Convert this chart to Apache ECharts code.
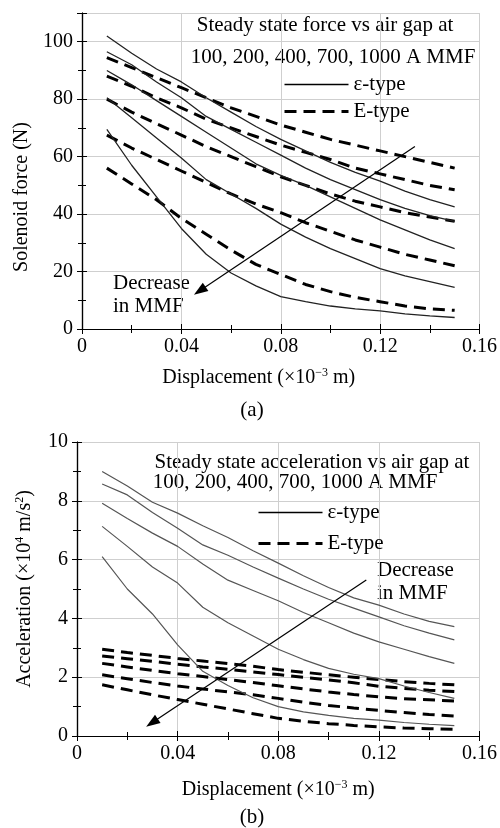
<!DOCTYPE html>
<html>
<head>
<meta charset="utf-8">
<script src="https://cdn.jsdelivr.net/npm/echarts@6/dist/echarts.min.js"></script>
<style>
html, body { margin: 0; padding: 0; background: #fff; }
#chart { width: 500px; height: 828px; }
</style>
</head>
<body>
<div id="chart"></div>
<script>
// displacement (x10^-3 m)
var disp = [0.01, 0.02, 0.03, 0.04, 0.05, 0.06, 0.07, 0.08, 0.09, 0.10, 0.11, 0.12, 0.13, 0.14, 0.15];

// (a) solenoid force (N), epsilon-type, 1000 -> 100 A
var fEps1000 = [102, 96, 90.5, 86, 80.5, 75.5, 70.5, 66, 62, 58, 54.5, 51.5, 48, 45, 42.5];
var fEps700 = [96.5, 92, 86, 80.5, 74, 69.5, 65, 60.5, 56, 52, 48.5, 45, 42, 39.5, 37.5];
var fEps400 = [90, 85, 79.5, 74, 68.5, 63, 57.5, 53.5, 50, 46, 42, 38, 34.5, 31, 28];
var fEps200 = [80.5, 73.5, 66.5, 59.5, 52, 47, 42, 36.5, 32, 28, 24.5, 21, 18.5, 16.5, 14.5];
var fEps100 = [69.5, 57, 46, 35, 26, 19.5, 15, 11.3, 9.5, 8, 7, 6.3, 5.3, 4.6, 4];
// (a) E-type
var fE1000 = [94.5, 91, 87.5, 84, 80.5, 77, 74, 71, 68.5, 66, 64, 62, 60, 58, 56];
var fE700 = [88, 84.5, 80.5, 77, 73, 70, 67, 64, 61.5, 59, 56, 54, 52, 50, 48.5];
var fE400 = [80, 75.5, 71.5, 67.5, 63.5, 60, 56.5, 53, 50, 47, 44.5, 42.5, 40.5, 39, 37.5];
var fE200 = [67.5, 63, 59, 55, 51, 47, 43.5, 40.5, 37, 34, 31, 28.5, 26, 24, 22];
var fE100 = [56, 50.5, 45, 38.5, 33, 27.5, 22.5, 19, 15.5, 13, 11, 9.5, 8, 7, 6.5];

// (b) acceleration (x10^4 m/s^2), epsilon-type
var aEps1000 = [9.0, 8.5, 7.95, 7.58, 7.15, 6.75, 6.3, 5.88, 5.45, 5.05, 4.7, 4.45, 4.15, 3.9, 3.72];
var aEps700 = [8.57, 8.2, 7.6, 7.07, 6.5, 6.15, 5.75, 5.37, 5.0, 4.65, 4.35, 4.05, 3.75, 3.5, 3.27];
var aEps400 = [7.92, 7.4, 6.9, 6.45, 5.85, 5.3, 4.95, 4.6, 4.2, 3.85, 3.5, 3.2, 2.95, 2.7, 2.47];
var aEps200 = [7.13, 6.45, 5.75, 5.2, 4.38, 3.85, 3.4, 2.95, 2.6, 2.3, 2.1, 1.95, 1.7, 1.48, 1.28];
var aEps100 = [6.1, 5.0, 4.15, 3.1, 2.2, 1.72, 1.3, 1.0, 0.82, 0.7, 0.6, 0.54, 0.46, 0.4, 0.35];
// (b) E-type
var aE1000 = [2.95, 2.84, 2.74, 2.64, 2.55, 2.46, 2.37, 2.26, 2.17, 2.08, 2.0, 1.92, 1.85, 1.79, 1.74];
var aE700 = [2.72, 2.63, 2.54, 2.44, 2.35, 2.27, 2.18, 2.09, 2.0, 1.91, 1.81, 1.69, 1.62, 1.56, 1.51];
var aE400 = [2.47, 2.35, 2.23, 2.12, 2.02, 1.92, 1.82, 1.71, 1.6, 1.5, 1.41, 1.33, 1.27, 1.23, 1.19];
var aE200 = [2.08, 1.95, 1.82, 1.7, 1.6, 1.5, 1.4, 1.28, 1.15, 1.04, 0.95, 0.87, 0.8, 0.73, 0.68];
var aE100 = [1.74, 1.57, 1.4, 1.24, 1.08, 0.92, 0.76, 0.6, 0.5, 0.42, 0.36, 0.31, 0.27, 0.25, 0.23];

// "Decrease in MMF" arrows, start -> head, in data units
var arrowA = [[0.134, 63.5], [0.0474, 13.3]];
var arrowB = [[0.115, 5.31], [0.0298, 0.45]];

var FONT = 'Liberation Serif';

function pts(ys) {
    return disp.map(function (x, i) { return [x, ys[i]]; });
}

function solid(name, ys, g, color, w) {
    return {
        name: name, type: 'line', xAxisIndex: g * 2, yAxisIndex: g * 2,
        data: pts(ys), symbol: 'none', silent: true, z: 3,
        itemStyle: { color: color },
        lineStyle: { color: color, width: w }
    };
}
function dashed(name, ys, g) {
    return {
        name: name, type: 'line', xAxisIndex: g * 2, yAxisIndex: g * 2,
        data: pts(ys), symbol: 'none', silent: true, z: 2,
        itemStyle: { color: '#000' },
        lineStyle: { color: '#000', width: 3, type: [12, 7] }
    };
}

function xAx(g, top) {
    return {
        type: 'value', gridIndex: g, position: top ? 'top' : 'bottom',
        min: 0, max: 0.16, interval: 0.04,
        axisLine: { show: true, lineStyle: { color: '#000', width: 1.2 } },
        axisTick: { show: true, inside: true, length: 5, lineStyle: { color: '#000' } },
        minorTick: { show: true, splitNumber: 2, length: 4, lineStyle: { color: '#000' } },
        splitLine: { show: !top, lineStyle: { color: '#cfcfcf', width: 1 } },
        axisLabel: { show: !top, color: '#000', fontFamily: FONT, fontSize: 20, margin: 8 }
    };
}
function yAx(g, right, max, step, showMax) {
    return {
        type: 'value', gridIndex: g, position: right ? 'right' : 'left',
        min: 0, max: max, interval: step,
        axisLine: { show: true, lineStyle: { color: '#000', width: 1.2 } },
        axisTick: { show: true, inside: true, length: 5, lineStyle: { color: '#000' } },
        minorTick: { show: true, splitNumber: 2, length: 4, lineStyle: { color: '#000' } },
        splitLine: { show: !right, lineStyle: { color: '#cfcfcf', width: 1 } },
        axisLabel: { show: !right, showMaxLabel: showMax, color: '#000', fontFamily: FONT, fontSize: 20, margin: 9 }
    };
}

var supRich = {
    sup: { fontFamily: FONT, fontSize: 12, color: '#000', padding: [0, 0, 9, 0] }
};

var xa0 = xAx(0, false), xa0t = xAx(0, true), xa1 = xAx(1, false), xa1t = xAx(1, true);
xa0.name = 'Displacement (×10{sup|−3} m)';
xa0.nameLocation = 'middle';
xa0.nameGap = 38;
xa0.nameTextStyle = { color: '#000', fontFamily: FONT, fontSize: 20, padding: [0, 44, 0, 0], rich: supRich };
xa1.name = 'Displacement (×10{sup|−3} m)';
xa1.nameLocation = 'middle';
xa1.nameGap = 43;
xa1.nameTextStyle = { color: '#000', fontFamily: FONT, fontSize: 20, rich: supRich };

var ya0 = yAx(0, false, 110, 20, false), ya0r = yAx(0, true, 110, 20, false);
var ya1 = yAx(1, false, 10, 2, true), ya1r = yAx(1, true, 10, 2, true);
ya0.name = 'Solenoid force (N)';
ya0.nameLocation = 'middle';
ya0.nameGap = 49;
ya0.nameTextStyle = { color: '#000', fontFamily: FONT, fontSize: 20, padding: [0, 52, 0, 0] };
ya1.name = 'Acceleration (×10{sup|4} m/s{sup|2})';
ya1.nameLocation = 'middle';
ya1.nameGap = 42;
ya1.nameTextStyle = { color: '#000', fontFamily: FONT, fontSize: 20, rich: supRich };

function arrowLine(a) {
    return {
        silent: true, symbol: ['none', 'triangle'], symbolSize: [10, 14],
        label: { show: false },
        lineStyle: { color: '#000', width: 1.2, type: 'solid' },
        data: [[{ coord: a[0] }, { coord: a[1] }]]
    };
}

function legendFor(left, top, gap) {
    return {
        orient: 'vertical', left: left, top: top, itemWidth: 64, itemHeight: 14, itemGap: gap,
        selectedMode: false,
        textStyle: { color: '#000', fontFamily: FONT, fontSize: 21 },
        data: [
            { name: 'ε-type', itemStyle: { opacity: 0 }, lineStyle: { color: '#000', width: 1.3, type: 'solid' } },
            { name: 'E-type', itemStyle: { opacity: 0 }, lineStyle: { color: '#000', width: 3, type: [12, 7] } }
        ]
    };
}

function txt(x, y, s, align) {
    return {
        type: 'text', x: x, y: y, silent: true,
        style: { text: s, fill: '#000', font: '21px "Liberation Serif"', align: align || 'center', verticalAlign: 'middle' }
    };
}

var s0 = solid('ε-type', fEps1000, 0, '#222', 1.3);
s0.markLine = arrowLine(arrowA);
var s1 = solid('ε-type', aEps1000, 1, '#555', 1.2);
s1.markLine = arrowLine(arrowB);

var chart = echarts.init(document.getElementById('chart'));
chart.setOption({
    animation: false,
    grid: [
        { left: 82, right: 20, top: 13, height: 316 },
        { left: 77, right: 20, top: 442, height: 294 }
    ],
    xAxis: [xa0, xa0t, xa1, xa1t],
    yAxis: [ya0, ya0r, ya1, ya1r],
    legend: [legendFor(278, 69, 6), legendFor(252, 497, 10)],
    graphic: [
        txt(325, 25, 'Steady state force vs air gap at'),
        txt(333, 57, '100, 200, 400, 700, 1000 A MMF'),
        txt(113, 283, 'Decrease', 'left'),
        txt(113, 306, 'in MMF', 'left'),
        txt(252, 410, '(a)'),
        txt(312, 462, 'Steady state acceleration vs air gap at'),
        txt(295, 482, '100, 200, 400, 700, 1000 A MMF'),
        txt(377, 570, 'Decrease', 'left'),
        txt(377, 593, 'in MMF', 'left'),
        txt(252, 817, '(b)')
    ],
    series: [
        s0,
        solid('ε-type', fEps700, 0, '#222', 1.3),
        solid('ε-type', fEps400, 0, '#222', 1.3),
        solid('ε-type', fEps200, 0, '#222', 1.3),
        solid('ε-type', fEps100, 0, '#222', 1.3),
        dashed('E-type', fE1000, 0),
        dashed('E-type', fE700, 0),
        dashed('E-type', fE400, 0),
        dashed('E-type', fE200, 0),
        dashed('E-type', fE100, 0),
        s1,
        solid('ε-type', aEps700, 1, '#555', 1.2),
        solid('ε-type', aEps400, 1, '#555', 1.2),
        solid('ε-type', aEps200, 1, '#555', 1.2),
        solid('ε-type', aEps100, 1, '#555', 1.2),
        dashed('E-type', aE1000, 1),
        dashed('E-type', aE700, 1),
        dashed('E-type', aE400, 1),
        dashed('E-type', aE200, 1),
        dashed('E-type', aE100, 1)
    ]
});
window.onresize = function () {
    chart.resize();
};
</script>
</body>
</html>
